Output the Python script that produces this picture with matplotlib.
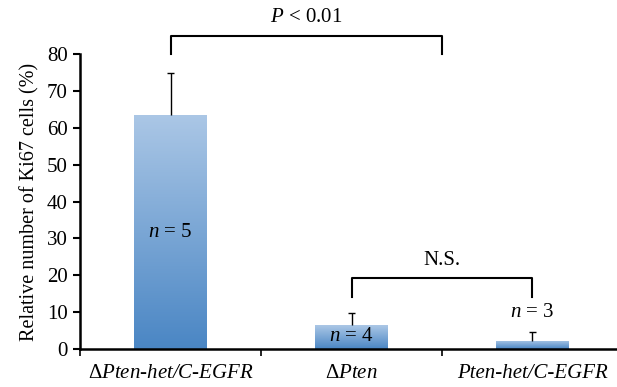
import numpy as np
import matplotlib.pyplot as plt
from matplotlib.colors import LinearSegmentedColormap

plt.rcParams['font.family'] = 'Liberation Serif'
plt.rcParams['mathtext.fontset'] = 'custom'
plt.rcParams['mathtext.rm'] = 'Liberation Serif'
plt.rcParams['mathtext.it'] = 'Liberation Serif:italic'

# ------ datos ------
grupos = [r'$\Delta$Pten-het/C-EGFR', r'$\Delta$Pten', 'Pten-het/C-EGFR']
valores = [63.5, 6.5, 2.2]
errores = [11.5, 3.2, 2.4]
n_textos = [r'$n$ = 5', r'$n$ = 4', r'$n$ = 3']
n_y = [31.5, 3.3, 9.8]

fig = plt.figure(figsize=(6.17, 3.87), dpi=100)
ax = fig.add_axes([0.1297, 0.098, 0.88, 0.762])

x = np.arange(len(grupos))
ancho = 0.4
cmap = LinearSegmentedColormap.from_list('azul', ['#4a86c4', '#abc7e6'])
grad = np.linspace(0, 1, 256).reshape(-1, 1)

barras = ax.bar(x, valores, width=ancho, color='none', edgecolor='none')
for b in barras:
    x0, y0 = b.get_x(), b.get_y()
    im = ax.imshow(grad, cmap=cmap, origin='lower', aspect='auto',
                   extent=[x0, x0 + b.get_width(), y0, y0 + b.get_height()], zorder=2)
    im.set_clip_path(b)

# barras de error (solo hacia arriba)
tope = np.array(valores) + np.array(errores)
ax.vlines(x, valores, tope, color='black', lw=1, zorder=3)
ax.hlines(tope, x - 0.02, x + 0.02, color='black', lw=1, zorder=3)

for xi, t, yi in zip(x, n_textos, n_y):
    ax.text(xi, yi, t, ha='center', va='center', fontsize=15, zorder=4)

# corchetes de significancia
ax.plot([0, 0, 1.5, 1.5], [80, 84.8, 84.8, 80], color='black', lw=1.5, clip_on=False)
ax.text(0.75, 90, r'$P$ < 0.01', ha='center', va='center', fontsize=15)
ax.plot([1, 1, 2, 2], [14.1, 19.2, 19.2, 14.1], color='black', lw=1.5)
ax.text(1.5, 24, 'N.S.', ha='center', va='center', fontsize=15)

ax.set_xlim(-0.5, 2.5)
ax.set_ylim(0, 80)
ax.set_yticks(range(0, 81, 10))
ax.set_xticks([-0.5, 0.5, 1.5, 2.5])
ax.set_xticklabels([])
ax.set_xticks(x, minor=True)
ax.set_xticklabels(grupos, minor=True, fontstyle='italic', fontsize=15)
ax.tick_params(axis='x', which='minor', length=0, pad=11)
ax.tick_params(axis='x', which='major', length=5, width=1.2, direction='out')
ax.tick_params(axis='y', length=5, width=1.5, labelsize=15, direction='out', pad=4)
ax.spines['top'].set_visible(False)
ax.spines['right'].set_visible(False)
ax.spines['left'].set_linewidth(1.8)
ax.spines['bottom'].set_linewidth(1.8)
ax.set_ylabel('Relative number of Ki67 cells (%)', fontsize=14.5, labelpad=5)

plt.savefig('out.png', dpi=100)
